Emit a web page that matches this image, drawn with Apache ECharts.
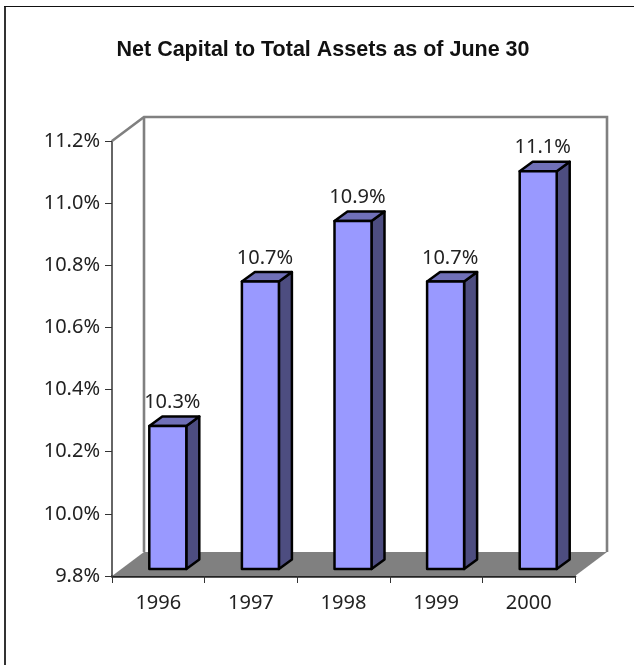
<!DOCTYPE html>
<html>
<head>
<meta charset="utf-8">
<style>html,body{margin:0;padding:0;background:#fff}#chart{width:634px;height:665px}</style>
<script src="https://cdn.jsdelivr.net/npm/echarts@6/dist/echarts.min.js"></script>
</head>
<body>
<div id="chart"></div>
<script>
const chartTitle = 'Net Capital to Total Assets as of June 30';
const years = ['1996', '1997', '1998', '1999', '2000'];
const capitalRatio = [10.26, 10.725, 10.92, 10.725, 11.08];
const axisMin = 9.8;
const axisMax = 11.2;
const axisStep = 0.2;

// Oblique projection offsets, in pixels
const WALL_DX = 32, WALL_DY = -24;
const BAR_DX = 9.5, BAR_DY = -7;
const BAR_DEPTH_DX = 13, BAR_DEPTH_DY = -9.5;
const BAR_WIDTH = 37;

const FONT = '"Noto Sans", sans-serif';
const chart = echarts.init(document.getElementById('chart'), null, {renderer: 'canvas'});

function shift(p, dx, dy) { return [p[0] + dx, p[1] + dy]; }

// Floor and back wall of the plot box
function renderBox(params, api) {
  const cs = params.coordSys;
  const fl = [cs.x, cs.y + cs.height];
  const fr = [cs.x + cs.width, cs.y + cs.height];
  const tl = [cs.x, cs.y];
  const bl = shift(fl, WALL_DX, WALL_DY);
  const br = shift(fr, WALL_DX, WALL_DY);
  const btl = shift(tl, WALL_DX, WALL_DY);
  const btr = [br[0], btl[1]];
  return {
    type: 'group',
    silent: true,
    children: [
      {type: 'polygon', shape: {points: [fl, fr, br, bl]}, style: {fill: '#808080'}},
      {type: 'polyline', shape: {points: [tl, btl, btr, br]}, style: {fill: 'none', stroke: '#808080', lineWidth: 2.6}},
      {type: 'line', shape: {x1: bl[0], y1: bl[1], x2: btl[0], y2: btl[1]}, style: {stroke: '#808080', lineWidth: 2.6}}
    ]
  };
}

// One oblique column: front, side and top faces plus its value label
function renderBar(params, api) {
  const top = api.coord([api.value(0), api.value(1)]);
  const base = api.coord([api.value(0), axisMin]);
  const x0 = top[0] - BAR_WIDTH / 2 + BAR_DX;
  const x1 = x0 + BAR_WIDTH;
  const yT = top[1] + BAR_DY;
  const yB = base[1] + BAR_DY;
  const dx = BAR_DEPTH_DX, dy = BAR_DEPTH_DY;
  const edge = {stroke: '#000', lineWidth: 2.5, lineJoin: 'round'};
  return {
    type: 'group',
    children: [
      {type: 'polygon', shape: {points: [[x1, yB], [x1 + dx, yB + dy], [x1 + dx, yT + dy], [x1, yT]]},
        style: Object.assign({fill: '#4D4D80'}, edge)},
      {type: 'polygon', shape: {points: [[x0, yT], [x1, yT], [x1 + dx, yT + dy], [x0 + dx, yT + dy]]},
        style: Object.assign({fill: '#7070B8'}, edge)},
      {type: 'rect', shape: {x: x0, y: yT, width: BAR_WIDTH, height: yB - yT},
        style: Object.assign({fill: '#9999FF'}, edge)},
      {type: 'text', x: x0 + 23, y: yT + dy - 4,
        style: {text: api.value(1).toFixed(1) + '%', fill: '#222', font: '20px ' + FONT,
          textAlign: 'center', textVerticalAlign: 'bottom'}}
    ]
  };
}

chart.setOption({
  animation: false,
  backgroundColor: '#fff',
  title: {
    text: chartTitle, left: 318, top: 34, textAlign: 'center',
    textStyle: {fontFamily: '"Liberation Sans", Arial, sans-serif', fontSize: 21.5, fontWeight: 'bold', color: '#111'}
  },
  grid: {left: 112, top: 141, width: 463, height: 435},
  xAxis: {
    type: 'category', data: years,
    axisLine: {lineStyle: {color: '#222', width: 2.5}},
    axisTick: {show: true, length: 7, alignWithLabel: false, lineStyle: {color: '#333', width: 1}},
    axisLabel: {margin: 17, fontFamily: FONT, fontSize: 20, color: '#222'}
  },
  yAxis: {
    type: 'value', min: axisMin, max: axisMax, interval: axisStep,
    splitLine: {show: false},
    axisLine: {show: true, lineStyle: {color: '#333', width: 1.5}},
    axisTick: {show: true, length: 7, lineStyle: {color: '#333', width: 1}},
    axisLabel: {margin: 12, fontFamily: FONT, fontSize: 20, color: '#222',
      formatter: v => v.toFixed(1) + '%'}
  },
  graphic: [
    {type: 'line', silent: true, z: 100,
      shape: {x1: 5, y1: 6, x2: 5, y2: 665},
      style: {stroke: '#333', lineWidth: 2}},
    {type: 'line', silent: true, z: 100,
      shape: {x1: 4, y1: 6.5, x2: 634, y2: 6.5},
      style: {stroke: '#111', lineWidth: 1}}
  ],
  series: [
    {type: 'custom', coordinateSystem: 'cartesian2d', z: 1, silent: true,
      data: [[0, axisMin]], renderItem: renderBox, clip: false},
    {type: 'custom', coordinateSystem: 'cartesian2d', z: 5, silent: true, clip: false,
      data: years.map((y, i) => [i, capitalRatio[i]]),
      encode: {x: 0, y: 1}, renderItem: renderBar}
  ]
});
</script>
</body>
</html>
